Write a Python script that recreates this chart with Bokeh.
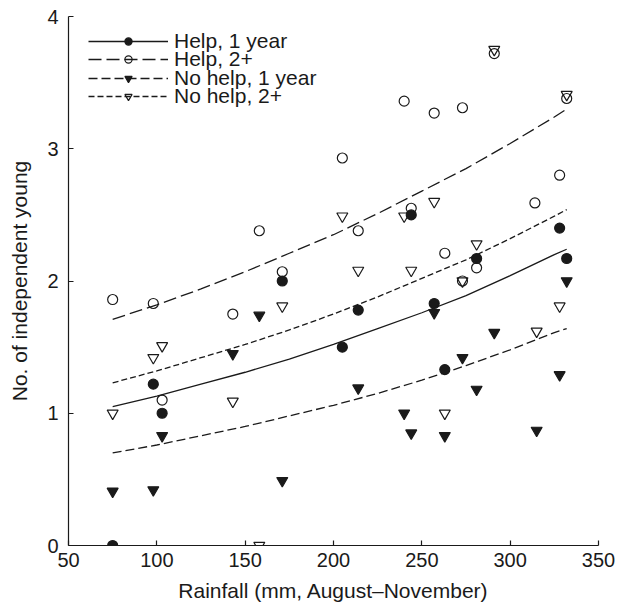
from bokeh.plotting import figure
from bokeh.models import Range1d, Legend, LegendItem, FixedTicker
from bokeh.embed import file_html
from bokeh.resources import INLINE

# ---- data ----
help1_x = [75, 98, 103, 171, 205, 214, 244, 257, 263, 281, 328, 332]
help1_y = [0.0, 1.22, 1.0, 2.0, 1.5, 1.78, 2.5, 1.83, 1.33, 2.17, 2.4, 2.17]

help2_x = [75, 98, 103, 143, 158, 171, 205, 214, 240, 244, 257, 263, 273, 273, 281, 291, 314, 328, 332]
help2_y = [1.86, 1.83, 1.10, 1.75, 2.38, 2.07, 2.93, 2.38, 3.36, 2.55, 3.27, 2.21, 3.31, 2.0, 2.10, 3.72, 2.59, 2.80, 3.38]

nohelp1_x = [75, 98, 103, 143, 158, 171, 214, 240, 244, 257, 263, 273, 281, 291, 315, 328, 332]
nohelp1_y = [0.41, 0.42, 0.83, 1.45, 1.74, 0.49, 1.19, 1.0, 0.85, 1.76, 0.83, 1.42, 1.18, 1.61, 0.87, 1.29, 2.0]

nohelp2_x = [75, 98, 103, 143, 158, 171, 205, 214, 240, 244, 257, 263, 273, 281, 291, 315, 328, 332]
nohelp2_y = [1.0, 1.42, 1.51, 1.09, 0.0, 1.81, 2.49, 2.08, 2.49, 2.08, 2.6, 1.0, 2.0, 2.28, 3.75, 1.62, 1.81, 3.41]

# fitted curves
fit_x = [75, 100, 125, 150, 175, 200, 225, 250, 275, 300, 325, 332]
help1_fit = [1.05, 1.13, 1.22, 1.31, 1.41, 1.52, 1.64, 1.76, 1.89, 2.04, 2.20, 2.24]
help2_fit = [1.71, 1.82, 1.94, 2.07, 2.21, 2.35, 2.51, 2.68, 2.85, 3.04, 3.24, 3.30]
nohelp1_fit = [0.70, 0.76, 0.83, 0.90, 0.98, 1.06, 1.15, 1.25, 1.36, 1.48, 1.61, 1.64]
nohelp2_fit = [1.23, 1.32, 1.42, 1.52, 1.63, 1.75, 1.88, 2.02, 2.16, 2.32, 2.49, 2.54]

labels = ["Help, 1 year", "Help, 2+", "No help, 1 year", "No help, 2+"]
x_ticks = [50, 100, 150, 200, 250, 300, 350]
y_ticks = [0, 1, 2, 3, 4]

FONT = "Liberation Sans"
INK = "#1a1a1a"

p = figure(output_backend="svg", toolbar_location=None,
           frame_width=530, frame_height=529,
           min_border_left=68, min_border_right=20,
           min_border_top=16, min_border_bottom=63,
           x_range=Range1d(50, 350), y_range=Range1d(0, 4))
p.outline_line_color = None
p.grid.visible = False
p.background_fill_color = "white"

for ax in (p.xaxis[0], p.yaxis[0]):
    ax.axis_line_color = INK
    ax.axis_line_width = 1.2
    ax.major_tick_line_color = INK
    ax.major_tick_line_width = 1.2
    ax.major_tick_in = 5
    ax.major_tick_out = 0
    ax.minor_tick_line_color = None
    ax.major_label_text_font = FONT
    ax.major_label_text_font_size = "20px"
    ax.major_label_text_color = INK
    ax.axis_label_text_font = FONT
    ax.axis_label_text_font_size = "21px"
    ax.axis_label_text_font_style = "normal"
    ax.axis_label_text_color = INK

p.xaxis[0].ticker = FixedTicker(ticks=x_ticks)
p.yaxis[0].ticker = FixedTicker(ticks=y_ticks)
p.xaxis[0].axis_label = "Rainfall (mm, August\u2013November)"
p.yaxis[0].axis_label = "No. of independent young"
p.xaxis[0].major_label_standoff = 7
p.xaxis[0].axis_label_standoff = 9
p.yaxis[0].major_label_standoff = 10
p.yaxis[0].axis_label_standoff = 13

lw = 1.3
l1 = p.line(fit_x, help1_fit, line_color=INK, line_width=lw)
l2 = p.line(fit_x, help2_fit, line_color=INK, line_width=lw, line_dash="13 5")
l3 = p.line(fit_x, nohelp1_fit, line_color=INK, line_width=lw, line_dash="9 4")
l4 = p.line(fit_x, nohelp2_fit, line_color=INK, line_width=lw, line_dash="6 3")

s4 = p.scatter(nohelp2_x, nohelp2_y, marker="inverted_triangle", size=11,
               fill_color=None, line_color=INK, line_width=1.2)
s3 = p.scatter(nohelp1_x, nohelp1_y, marker="inverted_triangle", size=11,
               fill_color=INK, line_color=INK, line_width=1.2)
s2 = p.scatter(help2_x, help2_y, marker="circle", size=10,
               fill_color=None, line_color=INK, line_width=1.2)
s1 = p.scatter(help1_x, help1_y, marker="circle", size=10,
               fill_color=INK, line_color=INK, line_width=1.2)

# one legend per entry so the rows can sit as tightly as in the reference
entries = [(labels[0], [l1, s1]), (labels[1], [l2, s2]),
           (labels[2], [l3, s3]), (labels[3], [l4, s4])]
row_bottoms = [492, 473.7, 455.4, 437.1]
for (lab, rends), vy in zip(entries, row_bottoms):
    lg = Legend(items=[LegendItem(label=lab, renderers=rends)], location=(20, vy))
    lg.border_line_color = None
    lg.background_fill_alpha = 0
    lg.margin = 0
    lg.padding = 0
    lg.glyph_width = 80
    lg.glyph_height = 18
    lg.label_height = 18
    lg.label_standoff = 6
    lg.label_text_font = FONT
    lg.label_text_font_size = "21px"
    lg.label_text_color = INK
    lg.label_text_baseline = "middle"
    p.add_layout(lg)

open("out.html", "w").write(file_html(p, INLINE))
